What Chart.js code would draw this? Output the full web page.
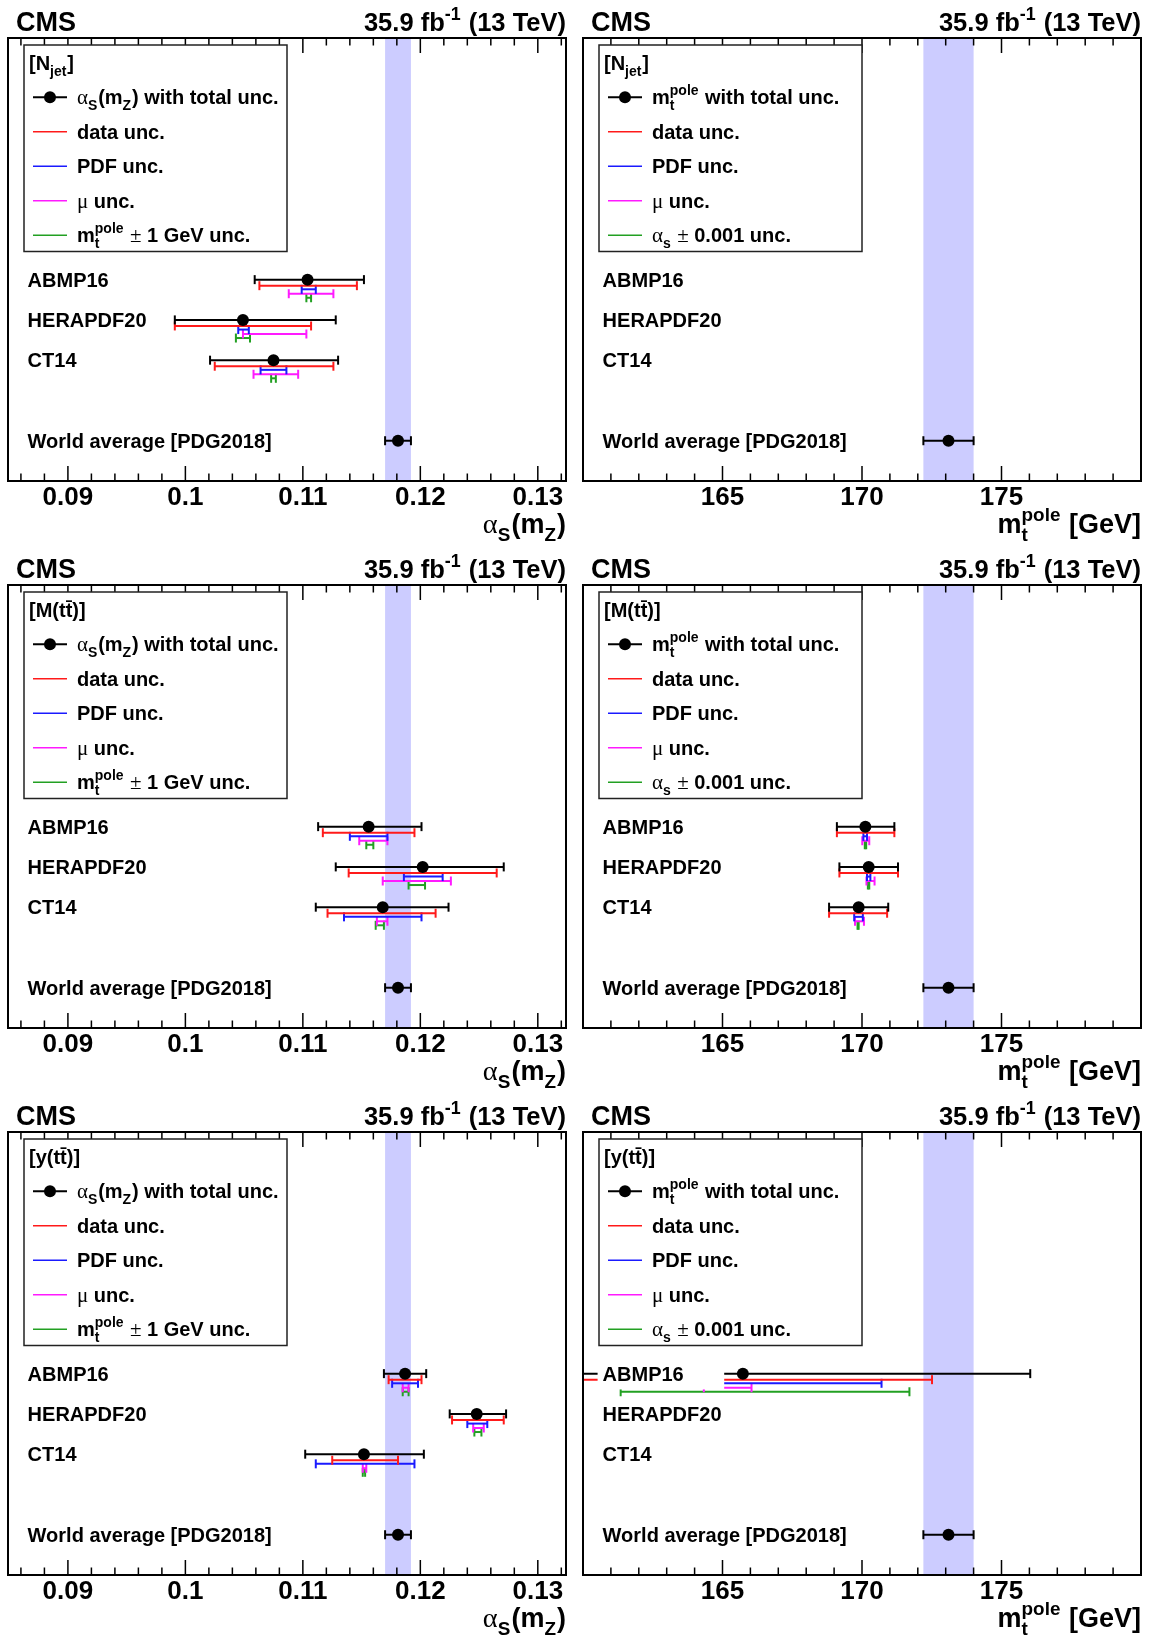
<!DOCTYPE html>
<html><head><meta charset="utf-8">
<script src="https://cdn.jsdelivr.net/npm/chart.js@4.4.1/dist/chart.umd.min.js"></script>
<style>
html,body{margin:0;padding:0;background:#fff;overflow:hidden;}
#wrap{position:relative;width:1150px;height:1640px;background:#fff;}
.pane{position:absolute;width:575px;height:547px;}
canvas{display:block;}
</style></head><body><div id="wrap"></div>
<script>
// ---------------- DATA ----------------
const pdfNames = ['ABMP16', 'HERAPDF20', 'CT14'];
const worldLabel = 'World average [PDG2018]';
const rowPos = [5, 4, 3];
const worldPos = 1;

const alphaTicks = [0.09, 0.1, 0.11, 0.12, 0.13];
const mtTicks = [165, 170, 175];
const alphaRange = [0.0849, 0.1324];
const mtRange = [160, 180];

const asWorld = 0.1181, asWorldErr = 0.0011;
const mtWorld = 173.1, mtWorldErr = 0.9;

// alpha_s(mZ) from N_jet
const asNjetCentral = [0.1104, 0.1049, 0.1075];
const asNjetTotal = [[0.1059, 0.1152], [0.0991, 0.1128], [0.1021, 0.1130]];
const asNjetData  = [[0.1063, 0.1146], [0.0991, 0.1107], [0.1025, 0.1126]];
const asNjetPdf   = [[0.1099, 0.1111], [0.1045, 0.1054], [0.1064, 0.1086]];
const asNjetMu    = [[0.1088, 0.1126], [0.1049, 0.1103], [0.1058, 0.1096]];
const asNjetMt    = [[0.1103, 0.1107], [0.1043, 0.1055], [0.1073, 0.1077]];

// mt pole from N_jet (outside the displayed range)
const mtNjetCentral = [null, null, null];
const mtNjetTotal = [null, null, null];
const mtNjetData  = [null, null, null];
const mtNjetPdf   = [null, null, null];
const mtNjetMu    = [null, null, null];
const mtNjetAs    = [null, null, null];

// alpha_s(mZ) from M(tt)
const asMttCentral = [0.1156, 0.1202, 0.1168];
const asMttTotal = [[0.1113, 0.1201], [0.1128, 0.1271], [0.1111, 0.1224]];
const asMttData  = [[0.1117, 0.1195], [0.1139, 0.1265], [0.1121, 0.1213]];
const asMttPdf   = [[0.1140, 0.1172], [0.1186, 0.1219], [0.1135, 0.1201]];
const asMttMu    = [[0.1148, 0.1172], [0.1168, 0.1226], [0.1163, 0.1172]];
const asMttMt    = [[0.1154, 0.1160], [0.1190, 0.1204], [0.1162, 0.1169]];

// mt pole from M(tt)
const mtMttCentral = [170.12, 170.24, 169.88];
const mtMttTotal = [[169.10, 171.16], [169.19, 171.29], [168.82, 170.94]];
const mtMttData  = [[169.10, 171.16], [169.19, 171.29], [168.82, 170.90]];
const mtMttPdf   = [[170.05, 170.18], [170.18, 170.30], [169.72, 170.03]];
const mtMttMu    = [[170.01, 170.26], [170.16, 170.45], [169.75, 170.07]];
const mtMttAs    = [[170.10, 170.15], [170.21, 170.26], [169.84, 169.88]];

// alpha_s(mZ) from y(tt)
const asYttCentral = [0.1187, 0.1248, 0.1152];
const asYttTotal = [[0.1169, 0.1205], [0.1225, 0.1273], [0.1102, 0.1203]];
const asYttData  = [[0.1173, 0.1201], [0.1227, 0.1271], [0.1125, 0.1181]];
const asYttPdf   = [[0.1176, 0.1198], [0.1240, 0.1257], [0.1111, 0.1195]];
const asYttMu    = [[0.1185, 0.1190], [0.1245, 0.1254], [0.1151, 0.1154]];
const asYttMt    = [[0.1185, 0.1190], [0.1246, 0.1252], [0.1151, 0.1153]];

// mt pole from y(tt)
const mtYttCentral = [165.73, null, null];
const mtYttTotal = [[155.4, 176.03], null, null];
const mtYttData  = [[158.95, 172.51], null, null];
const mtYttPdf   = [[160.76, 170.70], null, null];
const mtYttMu    = [[164.33, 166.04], null, null];
const mtYttAs    = [[161.35, 171.70], null, null];

// ---------------- STYLE ----------------
const SANS = "'Liberation Sans', Arial, Helvetica, sans-serif";
const SERIF = "'Liberation Serif', 'Times New Roman', serif";
const COLORS = ['#000000', '#ff1a1a', '#1a1aff', '#ff1aff', '#22a022'];
const uncOffsets = [0, 0.15, 0.24, 0.35, 0.45];
const BAND = '#ccccff';
const SUBR = 0.7;

function segWidth(ctx, s, size) {
  if (s.sub !== undefined || s.sup !== undefined) {
    ctx.font = `bold ${size * SUBR}px ${SANS}`;
    return Math.max(s.sub ? ctx.measureText(s.sub).width : 0, s.sup ? ctx.measureText(s.sup).width : 0) + size * 0.04;
  }
  ctx.font = s.sym ? `${size * 1.05}px ${SERIF}` : `bold ${size}px ${SANS}`;
  return ctx.measureText(s.t).width;
}
function drawRich(ctx, segs, x, y, size, align) {
  const total = segs.reduce((a, s) => a + segWidth(ctx, s, size), 0);
  let cx = align === 'right' ? x - total : x;
  ctx.textBaseline = 'alphabetic'; ctx.textAlign = 'left'; ctx.fillStyle = '#000';
  for (const s of segs) {
    const w = segWidth(ctx, s, size);
    if (s.sub !== undefined || s.sup !== undefined) {
      ctx.font = `bold ${size * SUBR}px ${SANS}`;
      if (s.sub) ctx.fillText(s.sub, cx, y + size * 0.3);
      if (s.sup) ctx.fillText(s.sup, cx, y - size * 0.45);
    } else {
      ctx.font = s.sym ? `${size * 1.05}px ${SERIF}` : `bold ${size}px ${SANS}`;
      ctx.fillText(s.t, cx, y);
    }
    cx += w;
  }
}

const headers = {
  njet: [{t: '[N'}, {sub: 'jet'}, {t: ']'}],
  mtt: [{t: '[M(tt\u0304)]'}],
  ytt: [{t: '[y(tt\u0304)]'}]
};
const legendAs = [
  [{t: 'α', sym: 1}, {sub: 'S'}, {t: '(m'}, {sub: 'Z'}, {t: ') with total unc.'}],
  [{t: 'data unc.'}], [{t: 'PDF unc.'}], [{t: 'μ', sym: 1}, {t: ' unc.'}],
  [{t: 'm'}, {sub: 't', sup: 'pole'}, {t: ' '}, {t: '±', sym: 1}, {t: ' 1 GeV unc.'}]
];
const legendMt = [
  [{t: 'm'}, {sub: 't', sup: 'pole'}, {t: ' with total unc.'}],
  [{t: 'data unc.'}], [{t: 'PDF unc.'}], [{t: 'μ', sym: 1}, {t: ' unc.'}],
  [{t: 'α', sym: 1}, {sub: 's'}, {t: ' '}, {t: '±', sym: 1}, {t: ' 0.001 unc.'}]
];
const titleAs = [{t: 'α', sym: 1}, {sub: 'S'}, {t: '(m'}, {sub: 'Z'}, {t: ')'}];
const titleMt = [{t: 'm'}, {sub: 't', sup: 'pole'}, {t: ' [GeV]'}];

const panels = [
  {row: 0, col: 0, kind: 'as', obs: 'njet', c: asNjetCentral, g: [asNjetTotal, asNjetData, asNjetPdf, asNjetMu, asNjetMt]},
  {row: 0, col: 1, kind: 'mt', obs: 'njet', c: mtNjetCentral, g: [mtNjetTotal, mtNjetData, mtNjetPdf, mtNjetMu, mtNjetAs]},
  {row: 1, col: 0, kind: 'as', obs: 'mtt', c: asMttCentral, g: [asMttTotal, asMttData, asMttPdf, asMttMu, asMttMt]},
  {row: 1, col: 1, kind: 'mt', obs: 'mtt', c: mtMttCentral, g: [mtMttTotal, mtMttData, mtMttPdf, mtMttMu, mtMttAs]},
  {row: 2, col: 0, kind: 'as', obs: 'ytt', c: asYttCentral, g: [asYttTotal, asYttData, asYttPdf, asYttMu, asYttMt]},
  {row: 2, col: 1, kind: 'mt', obs: 'ytt', c: mtYttCentral, g: [mtYttTotal, mtYttData, mtYttPdf, mtYttMu, mtYttAs]}
];

function errDS(lo, hi, y, color) {
  return {
    data: [{x: lo, y: y}, {x: hi, y: y}], showLine: true, borderColor: color, borderWidth: 2,
    pointStyle: 'line', pointRotation: 90, pointRadius: 4.5, pointHoverRadius: 4.5,
    pointBorderColor: color, pointBorderWidth: 2, pointBackgroundColor: color,
    fill: false, tension: 0, order: 1
  };
}

function makePlugin(p, isAs, world, werr, minorStep) {
  return {
    id: 'rootstyle',
    beforeDatasetsDraw(chart) {
      const {ctx, chartArea: a, scales: {x}} = chart;
      ctx.save();
      ctx.fillStyle = BAND;
      const x0 = x.getPixelForValue(world - werr), x1 = x.getPixelForValue(world + werr);
      ctx.fillRect(x0, a.top, x1 - x0, a.bottom - a.top);
      ctx.restore();
    },
    afterDatasetsDraw(chart) {
      const {ctx, chartArea: a, scales: {y}} = chart;
      ctx.save();
      const rows = pdfNames.map((n, i) => [n, rowPos[i]]).concat([[worldLabel, worldPos]]);
      rows.forEach(([name, pos], i) => {
        const py = y.getPixelForValue(pos);
        if (i < 3) { ctx.fillStyle = '#fff'; ctx.fillRect(a.left + 14.6, py - 15.8, 126.6, 31.6); }
        ctx.fillStyle = '#000'; ctx.font = `bold 20px ${SANS}`;
        ctx.textAlign = 'left'; ctx.textBaseline = 'alphabetic';
        ctx.fillText(name, a.left + 19.6, py + 7.2);
      });
      ctx.restore();
    },
    afterDraw(chart) {
      const {ctx, chartArea: a, scales: {x}} = chart;
      ctx.save();
      // ticks (bottom & top, inward)
      ctx.strokeStyle = '#000'; ctx.lineWidth = 1.5;
      const i0 = Math.ceil(x.min / minorStep - 1e-6), i1 = Math.floor(x.max / minorStep + 1e-6);
      for (let i = i0; i <= i1; i++) {
        const v = i * minorStep;
        const major = Math.abs(i / 5 - Math.round(i / 5)) < 1e-6;
        const len = major ? 15 : 7.5;
        const px = x.getPixelForValue(v);
        ctx.beginPath();
        ctx.moveTo(px, a.bottom); ctx.lineTo(px, a.bottom - len);
        ctx.moveTo(px, a.top); ctx.lineTo(px, a.top + len);
        ctx.stroke();
      }
      // frame
      ctx.lineWidth = 2;
      ctx.strokeRect(a.left, a.top, a.right - a.left, a.bottom - a.top);
      // legend
      const lx0 = 24, ly0 = 45, lx1 = 287, ly1 = 251.5;
      ctx.fillStyle = '#fff';
      ctx.fillRect(lx0, ly0, lx1 - lx0, ly1 - ly0);
      ctx.strokeStyle = '#222'; ctx.lineWidth = 1.5;
      ctx.strokeRect(lx0, ly0, lx1 - lx0, ly1 - ly0);
      drawRich(ctx, headers[p.obs], 29, 70, 20, 'left');
      const entries = isAs ? legendAs : legendMt;
      const ys = [97.2, 131.7, 166.2, 200.7, 235.2];
      entries.forEach((segs, k) => {
        const cy = ys[k];
        ctx.strokeStyle = COLORS[k]; ctx.lineWidth = k === 0 ? 2 : 1.5;
        ctx.beginPath(); ctx.moveTo(33, cy); ctx.lineTo(67, cy); ctx.stroke();
        if (k === 0) { ctx.fillStyle = '#000'; ctx.beginPath(); ctx.arc(50, cy, 6, 0, Math.PI * 2); ctx.fill(); }
        drawRich(ctx, segs, 77, cy + 7.2, 20, 'left');
      });
      // CMS + lumi
      ctx.fillStyle = '#000'; ctx.font = `bold 27px ${SANS}`; ctx.textAlign = 'left'; ctx.textBaseline = 'alphabetic';
      ctx.fillText('CMS', 16, 31);
      drawRich(ctx, [{t: '35.9 fb'}, {sup: '-1'}, {t: ' (13 TeV)'}], a.right, 31, 25.5, 'right');
      // axis title
      drawRich(ctx, isAs ? titleAs : titleMt, a.right, 533, 27, 'right');
      ctx.restore();
    }
  };
}

const wrap = document.getElementById('wrap');
panels.forEach((p, idx) => {
  const div = document.createElement('div');
  div.className = 'pane';
  div.style.left = (p.col * 575) + 'px';
  div.style.top = (p.row * 547) + 'px';
  const cv = document.createElement('canvas');
  cv.width = 575; cv.height = 547;
  cv.style.width = '575px'; cv.style.height = '547px';
  div.appendChild(cv); wrap.appendChild(div);

  const isAs = p.kind === 'as';
  const range = isAs ? alphaRange : mtRange;
  const ticks = isAs ? alphaTicks : mtTicks;
  const minorStep = isAs ? 0.002 : 1;
  const world = isAs ? asWorld : mtWorld;
  const werr = isAs ? asWorldErr : mtWorldErr;

  const pts = [{x: world, y: worldPos}];
  const datasets = [];
  p.c.forEach((c, i) => {
    if (c == null) return;
    pts.push({x: c, y: rowPos[i]});
    p.g.forEach((g, k) => {
      const iv = g[i]; if (!iv) return;
      datasets.push(errDS(iv[0], iv[1], rowPos[i] - uncOffsets[k], COLORS[k]));
    });
  });
  datasets.push(errDS(world - werr, world + werr, worldPos, COLORS[0]));
  datasets.unshift({
    data: pts, showLine: false, pointStyle: 'circle', pointRadius: 6, pointHoverRadius: 6,
    pointBackgroundColor: '#000', pointBorderColor: '#000', pointBorderWidth: 0, order: 0
  });

  new Chart(cv, {
    type: 'scatter',
    data: {datasets},
    options: {
      responsive: false, animation: false, devicePixelRatio: 1, events: [],
      layout: {padding: {left: 8, right: 9, top: 38, bottom: 0}},
      plugins: {legend: {display: false}, tooltip: {enabled: false}},
      scales: {
        x: {
          type: 'linear', min: range[0], max: range[1], position: 'bottom',
          grid: {display: false, drawTicks: false}, border: {display: false},
          ticks: {
            font: {family: SANS, size: 26, weight: 'bold'}, color: '#000', padding: 1,
            maxRotation: 0, minRotation: 0, autoSkip: false,
            callback: (v) => String(v)
          },
          afterBuildTicks: (s) => { s.ticks = ticks.map(v => ({value: v})); },
          afterFit: (s) => { s.height = 66; }
        },
        y: {type: 'linear', min: 0, max: 11, display: false}
      }
    },
    plugins: [makePlugin(p, isAs, world, werr, minorStep)]
  });
});
</script>
</body></html>
